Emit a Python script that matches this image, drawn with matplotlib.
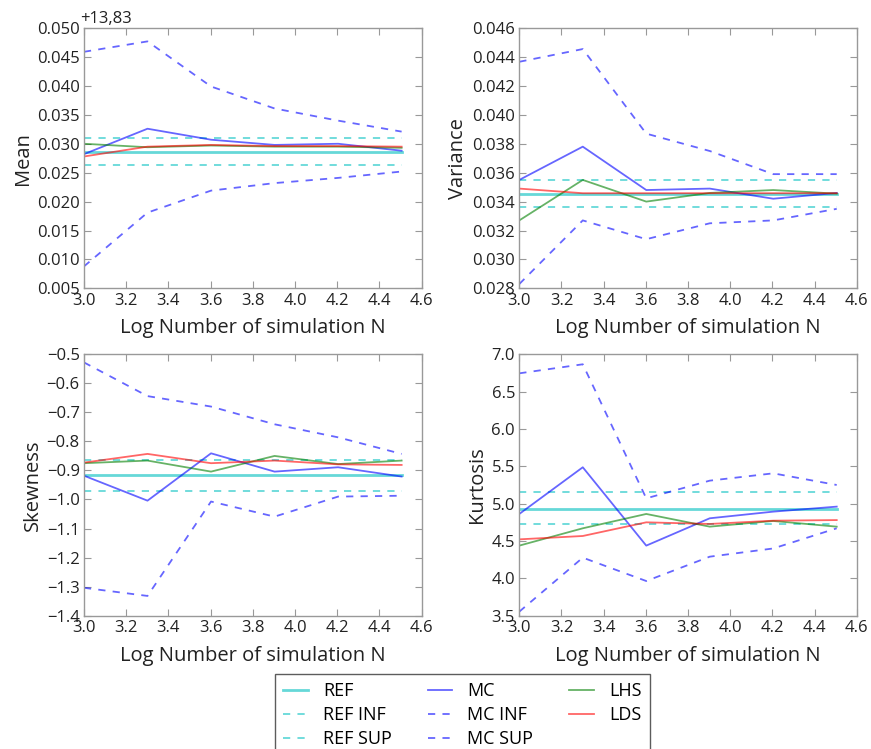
import matplotlib
matplotlib.use("Agg")
import matplotlib.pyplot as plt
import numpy as np

plt.rcParams['font.family'] = ['Open Sans', 'DejaVu Sans']

# Number of simulations N (x = log10 N)
n_sim = [1000, 2000, 4000, 8000, 16000, 32000]

mean_offset = 13.83
mean_ref = 13.8586
mean_ref_inf = 13.8564
mean_ref_sup = 13.8610
mean_mc = [13.8582, 13.8626, 13.8607, 13.8598, 13.8600, 13.8588]
mean_mc_inf = [13.8388, 13.8481, 13.8519, 13.8532, 13.8541, 13.8552]
mean_mc_sup = [13.8759, 13.8777, 13.8699, 13.8661, 13.8640, 13.8621]
mean_lhs = [13.8600, 13.8594, 13.8597, 13.8595, 13.8595, 13.8593]
mean_lds = [13.8578, 13.8595, 13.8598, 13.8596, 13.8596, 13.8595]

var_ref = 0.03455
var_ref_inf = 0.0336
var_ref_sup = 0.0355
var_mc = [0.0355, 0.0378, 0.0348, 0.0349, 0.0342, 0.0346]
var_mc_inf = [0.0283, 0.0327, 0.0314, 0.0325, 0.0327, 0.0335]
var_mc_sup = [0.04367, 0.04455, 0.0387, 0.0375, 0.0359, 0.0359]
var_lhs = [0.0327, 0.0355, 0.0340, 0.0346, 0.0348, 0.03455]
var_lds = [0.0349, 0.03458, 0.03458, 0.03458, 0.03458, 0.03458]

skew_ref = -0.916
skew_ref_inf = -0.971
skew_ref_sup = -0.865
skew_mc = [-0.918, -1.004, -0.841, -0.904, -0.889, -0.921]
skew_mc_inf = [-1.304, -1.332, -1.007, -1.059, -0.990, -0.987]
skew_mc_sup = [-0.528, -0.644, -0.680, -0.741, -0.786, -0.843]
skew_lhs = [-0.875, -0.866, -0.904, -0.850, -0.878, -0.866]
skew_lds = [-0.873, -0.843, -0.875, -0.866, -0.879, -0.881]

kurt_ref = 4.924
kurt_ref_inf = 4.728
kurt_ref_sup = 5.161
kurt_mc = [4.862, 5.487, 4.438, 4.804, 4.893, 4.960]
kurt_mc_inf = [3.554, 4.277, 3.964, 4.290, 4.400, 4.670]
kurt_mc_sup = [6.745, 6.866, 5.071, 5.308, 5.406, 5.250]
kurt_lhs = [4.438, 4.670, 4.862, 4.692, 4.768, 4.692]
kurt_lds = [4.522, 4.567, 4.750, 4.728, 4.772, 4.780]

x = np.log10(n_sim)

panels = [
    dict(label='Mean', off=mean_offset, ref=mean_ref, inf=mean_ref_inf, sup=mean_ref_sup,
         mc=mean_mc, mci=mean_mc_inf, mcs=mean_mc_sup, lhs=mean_lhs, lds=mean_lds,
         ylim=(0.005, 0.050), step=0.005, fmt='{:.3f}'),
    dict(label='Variance', off=0.0, ref=var_ref, inf=var_ref_inf, sup=var_ref_sup,
         mc=var_mc, mci=var_mc_inf, mcs=var_mc_sup, lhs=var_lhs, lds=var_lds,
         ylim=(0.028, 0.046), step=0.002, fmt='{:.3f}'),
    dict(label='Skewness', off=0.0, ref=skew_ref, inf=skew_ref_inf, sup=skew_ref_sup,
         mc=skew_mc, mci=skew_mc_inf, mcs=skew_mc_sup, lhs=skew_lhs, lds=skew_lds,
         ylim=(-1.4, -0.5), step=0.1, fmt='{:.1f}'),
    dict(label='Kurtosis', off=0.0, ref=kurt_ref, inf=kurt_ref_inf, sup=kurt_ref_sup,
         mc=kurt_mc, mci=kurt_mc_inf, mcs=kurt_mc_sup, lhs=kurt_lhs, lds=kurt_lds,
         ylim=(3.5, 7.0), step=0.5, fmt='{:.1f}'),
]

positions = [
    [0.0964, 0.6150, 0.3877, 0.3475],
    [0.5962, 0.6150, 0.3874, 0.3475],
    [0.0964, 0.1780, 0.3877, 0.3490],
    [0.5962, 0.1780, 0.3874, 0.3490],
]

C_REF = '#00BFBF'
C_MC = '#0000FF'
C_LHS = '#008000'
C_LDS = '#FF0000'
A = 0.6
LW = 1.3
DASH = (0, (4, 4))

fig = plt.figure(figsize=(8.71, 7.49), dpi=100)
handles = None
for p, pos in zip(panels, positions):
    ax = fig.add_axes(pos)
    o = p['off']
    ones = np.ones_like(x)
    h1, = ax.plot(x, ones * (p['ref'] - o), color=C_REF, alpha=A, lw=2.0, label='REF')
    h2, = ax.plot(x, ones * (p['inf'] - o), color=C_REF, alpha=A, lw=LW, ls=DASH, label='REF INF')
    h3, = ax.plot(x, ones * (p['sup'] - o), color=C_REF, alpha=A, lw=LW, ls=DASH, label='REF SUP')
    h4, = ax.plot(x, np.array(p['mc']) - o, color=C_MC, alpha=A, lw=LW, label='MC')
    h5, = ax.plot(x, np.array(p['mci']) - o, color=C_MC, alpha=A, lw=LW, ls=DASH, label='MC INF')
    h6, = ax.plot(x, np.array(p['mcs']) - o, color=C_MC, alpha=A, lw=LW, ls=DASH, label='MC SUP')
    h7, = ax.plot(x, np.array(p['lhs']) - o, color=C_LHS, alpha=A, lw=LW, label='LHS')
    h8, = ax.plot(x, np.array(p['lds']) - o, color=C_LDS, alpha=A, lw=LW, label='LDS')
    handles = [h1, h2, h3, h4, h5, h6, h7, h8]

    ax.set_xlim(3.0, 4.6)
    ax.set_ylim(*p['ylim'])
    xt = np.arange(3.0, 4.61, 0.2)
    ax.set_xticks(xt)
    ax.set_xticklabels(['{:.1f}'.format(v) for v in xt])
    yt = np.arange(p['ylim'][0], p['ylim'][1] + p['step'] / 2, p['step'])
    ax.set_yticks(yt)
    ax.set_yticklabels([p['fmt'].format(v).replace('-', '\u2212') for v in yt])
    ax.tick_params(direction='in', top=True, right=True, length=5, width=0.8,
                   color='#999999', labelsize=12, labelcolor='#222222', pad=3)
    for s in ax.spines.values():
        s.set_color('#999999')
        s.set_linewidth(1.0)
    ax.set_xlabel('Log Number of simulation N', fontsize=14.5, color='#222222', labelpad=7)
    ax.set_ylabel(p['label'], fontsize=14.5, color='#222222', labelpad=3)
    if o:
        ax.text(-0.01, 1.005, '+13,83', transform=ax.transAxes, ha='left', va='bottom',
                fontsize=12, color='#222222')

leg = fig.legend(handles, [h.get_label() for h in handles], loc='upper left',
                 bbox_to_anchor=(275 / 871, 1 - 674.3 / 749), borderaxespad=0.0,
                 ncol=3, fontsize=13, frameon=True, fancybox=False,
                 edgecolor='#333333', handlelength=1.35, handletextpad=0.85,
                 columnspacing=2.0, labelspacing=0.33, borderpad=0.45)
leg.get_frame().set_linewidth(1.0)

fig.savefig('out.png', dpi=100)
